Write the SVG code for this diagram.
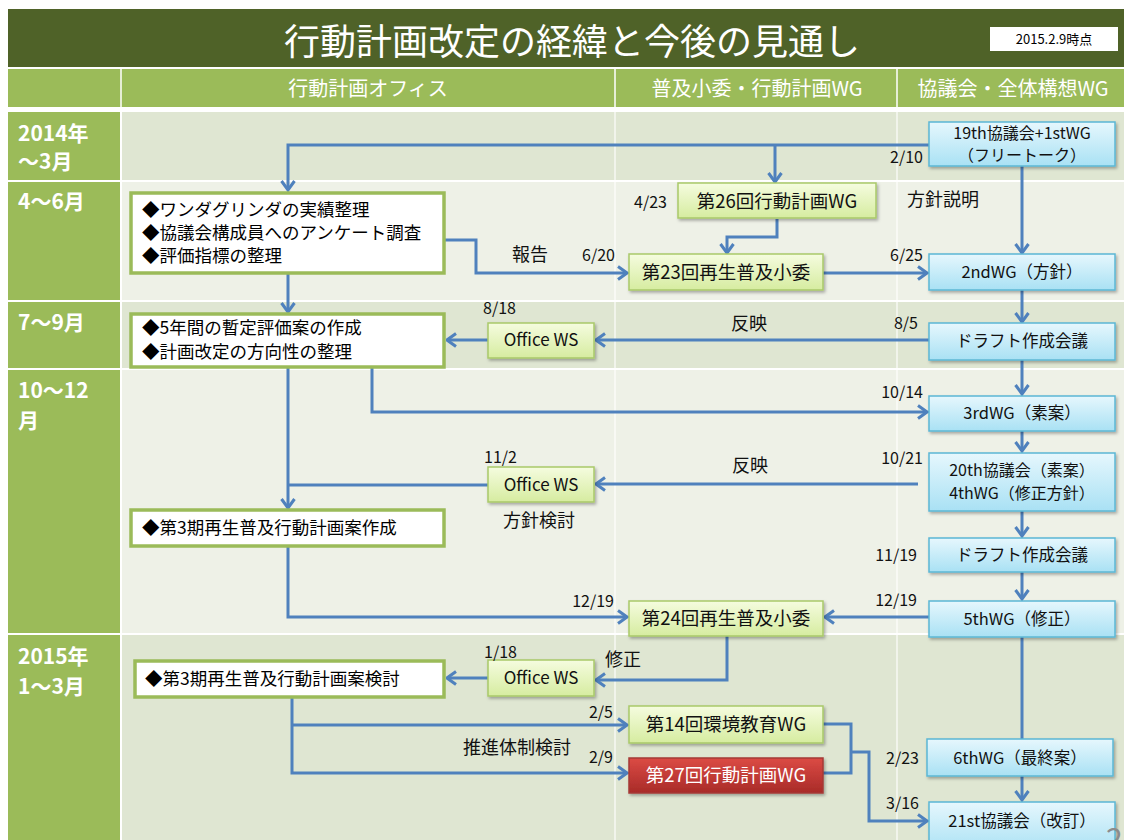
<svg xmlns="http://www.w3.org/2000/svg" width="1124" height="840" viewBox="0 0 1124 840">
<style>
text{font-family:"Noto Sans CJK JP","Noto Sans",sans-serif;}
.title{font-size:36px;fill:#fff;text-anchor:middle;}
.hdr{font-size:20px;fill:#fff;text-anchor:middle;}
.row{font-size:21px;fill:#fff;font-weight:bold;}
.off{fill:#fff;stroke:#9bbb59;stroke-width:3.5;}
.offt{font-size:17.5px;fill:#000;}
.pl{fill:url(#gPlan);stroke:#a9c96a;stroke-width:1.5;filter:url(#sh);}
.red{fill:url(#gRed);stroke:#a53a36;stroke-width:1.5;filter:url(#sh);}
.co{fill:url(#gCo);stroke:#5bb7d5;stroke-width:1.5;filter:url(#sh);}
.plt{font-size:18.5px;fill:#111;text-anchor:middle;}
.ws{font-size:17px;fill:#111;text-anchor:middle;}
.cot{font-size:16.5px;fill:#111;text-anchor:middle;}
.cot2{font-size:16px;fill:#111;text-anchor:middle;}
.dt{font-size:16px;fill:#111;}
.lb{font-size:18px;fill:#111;}
.r{text-anchor:end;}
.m{text-anchor:middle;}
.cn path{fill:none;stroke:#4f81bd;stroke-width:3;}
.ar{marker-end:url(#arr);}
</style>
<defs>
<linearGradient id="gPlan" x1="0" y1="0" x2="0" y2="1"><stop offset="0" stop-color="#f5fcdf"/><stop offset="1" stop-color="#d6eca0"/></linearGradient>
<linearGradient id="gCo" x1="0" y1="0" x2="0" y2="1"><stop offset="0" stop-color="#e6f7fd"/><stop offset="1" stop-color="#a9e1f4"/></linearGradient>
<linearGradient id="gRed" x1="0" y1="0" x2="0" y2="1"><stop offset="0" stop-color="#dc4b45"/><stop offset="1" stop-color="#a82b28"/></linearGradient>
<filter id="sh" x="-10%" y="-20%" width="130%" height="160%"><feDropShadow dx="1.5" dy="2" stdDeviation="1.5" flood-color="#000" flood-opacity="0.3"/></filter>
<marker id="arr" viewBox="0 0 12 16" refX="10.5" refY="8" markerWidth="12" markerHeight="16" markerUnits="userSpaceOnUse" orient="auto"><path d="M1.5,1.5 L10.5,8 L1.5,14.5" fill="none" stroke="#4f81bd" stroke-width="3"/></marker>
</defs>
<rect width="1124" height="840" fill="#fff"/>
<!-- title -->
<rect x="8" y="9" width="1116" height="58" fill="#4f6228"/>
<text class="title" x="572" y="55">行動計画改定の経緯と今後の見通し</text>
<rect x="990" y="27" width="128" height="24" fill="#fff"/>
<text x="1054" y="44" font-size="13" fill="#000" text-anchor="middle">2015.2.9時点</text>
<!-- header -->
<rect x="8" y="69" width="1116" height="38" fill="#9bbb59"/>
<g stroke="#e6eed6" stroke-width="2"><line x1="121" y1="69" x2="121" y2="107"/><line x1="615" y1="69" x2="615" y2="107"/><line x1="897" y1="69" x2="897" y2="107"/></g>
<text class="hdr" x="368" y="96">行動計画オフィス</text>
<text class="hdr" x="757" y="96">普及小委・行動計画WG</text>
<text class="hdr" x="1013" y="96">協議会・全体構想WG</text>
<!-- rows -->
<g>
<rect x="122" y="112" width="1002" height="68" fill="#dfe6d2"/>
<rect x="122" y="182" width="1002" height="118" fill="#eef1e7"/>
<rect x="122" y="302" width="1002" height="66" fill="#dfe6d2"/>
<rect x="122" y="370" width="1002" height="263" fill="#eef1e7"/>
<rect x="122" y="635" width="1002" height="205" fill="#dfe6d2"/>
<rect x="8" y="112" width="112" height="68" fill="#9bbb59"/>
<rect x="8" y="182" width="112" height="118" fill="#9bbb59"/>
<rect x="8" y="302" width="112" height="66" fill="#9bbb59"/>
<rect x="8" y="370" width="112" height="263" fill="#9bbb59"/>
<rect x="8" y="635" width="112" height="205" fill="#9bbb59"/>
<g stroke="#ffffff" stroke-opacity="0.75" stroke-width="1.5"><line x1="615" y1="112" x2="615" y2="840"/><line x1="897" y1="112" x2="897" y2="840"/></g>
<text class="row" x="18" y="141">2014年</text>
<text class="row" x="18" y="169">～3月</text>
<text class="row" x="18" y="209">4～6月</text>
<text class="row" x="18" y="330">7～9月</text>
<text class="row" x="18" y="398">10～12</text>
<text class="row" x="18" y="428">月</text>
<text class="row" x="18" y="664">2015年</text>
<text class="row" x="18" y="694">1～3月</text>
</g>
<!-- connectors -->
<g id="connectors" class="cn">
<path class="ar" d="M929,145 H288 V190"/>
<path class="ar" d="M775,145 V182"/>
<path class="ar" d="M1022,166 V253"/>
<path class="ar" d="M777,219 V237 H727 V253"/>
<path class="ar" d="M444,240 H476 V273 H627"/>
<path class="ar" d="M823,273 H927"/>
<path class="ar" d="M288,273 V312"/>
<path class="ar" d="M1022,290 V322"/>
<path class="ar" d="M929,340 H596"/>
<path class="ar" d="M488,340 H447"/>
<path class="ar" d="M1022,360 V394"/>
<path class="ar" d="M372,367 V412 H927"/>
<path class="ar" d="M1022,431 V451"/>
<path class="ar" d="M918,484 H596"/>
<path d="M488,485 H288"/>
<path class="ar" d="M288,367 V508"/>
<path class="ar" d="M1022,511 V536"/>
<path class="ar" d="M1022,572 V599"/>
<path class="ar" d="M288,546 V617 H627"/>
<path class="ar" d="M929,617 H825"/>
<path class="ar" d="M727,636 V680 H596"/>
<path class="ar" d="M488,678 H447"/>
<path class="ar" d="M292,697 V773 H627"/>
<path class="ar" d="M292,725 H627"/>
<path d="M1022,637 V739"/>
<path class="ar" d="M1022,776 V800"/>
<path d="M823,724 H851 V773 H823"/>
<path class="ar" d="M851,752 H869 V821 H927"/>
</g>
<!-- office nodes -->
<g id="nA"><rect class="off" x="131" y="193" width="313" height="80"/>
<text class="offt" x="142" y="216">◆ワンダグリンダの実績整理</text>
<text class="offt" x="142" y="239">◆協議会構成員へのアンケート調査</text>
<text class="offt" x="142" y="262">◆評価指標の整理</text></g>
<g id="nB"><rect class="off" x="131" y="314" width="313" height="53"/>
<text class="offt" x="142" y="334">◆5年間の暫定評価案の作成</text>
<text class="offt" x="142" y="358">◆計画改定の方向性の整理</text></g>
<g id="nC"><rect class="off" x="131" y="510" width="313" height="36"/>
<text class="offt" x="142" y="534">◆第3期再生普及行動計画案作成</text></g>
<g id="nD"><rect class="off" x="135" y="661" width="309" height="36"/>
<text class="offt" x="145" y="685">◆第3期再生普及行動計画案検討</text></g>
<!-- plan nodes -->
<g id="p26"><rect class="pl" x="678" y="183" width="198" height="35"/><text class="plt" x="777" y="208">第26回行動計画WG</text></g>
<g id="p23"><rect class="pl" x="629" y="254" width="194" height="36"/><text class="plt" x="726" y="279">第23回再生普及小委</text></g>
<g id="ws1"><rect class="pl" x="488" y="323" width="106" height="35"/><text class="ws" x="541" y="346">Office WS</text></g>
<g id="ws2"><rect class="pl" x="488" y="467" width="106" height="35"/><text class="ws" x="541" y="491">Office WS</text></g>
<g id="p24"><rect class="pl" x="629" y="601" width="194" height="35"/><text class="plt" x="726" y="625">第24回再生普及小委</text></g>
<g id="ws3"><rect class="pl" x="488" y="660" width="106" height="36"/><text class="ws" x="541" y="684">Office WS</text></g>
<g id="p14"><rect class="pl" x="629" y="706" width="194" height="37"/><text class="plt" x="726" y="731">第14回環境教育WG</text></g>
<g id="p27"><rect class="red" x="629" y="758" width="194" height="35"/><text class="plt" x="726" y="782" style="fill:#fff">第27回行動計画WG</text></g>
<!-- council nodes -->
<g id="c19"><rect class="co" x="929" y="122" width="186" height="44"/><text class="cot2" x="1022" y="139">19th協議会+1stWG</text><text class="cot2" x="1022" y="161">（フリートーク）</text></g>
<g id="c2"><rect class="co" x="929" y="254" width="186" height="36"/><text class="cot" x="1022" y="278">2ndWG（方針）</text></g>
<g id="cd1"><rect class="co" x="929" y="323" width="186" height="37"/><text class="cot" x="1022" y="347">ドラフト作成会議</text></g>
<g id="c3"><rect class="co" x="929" y="396" width="186" height="35"/><text class="cot" x="1022" y="419">3rdWG（素案）</text></g>
<g id="c20"><rect class="co" x="929" y="453" width="186" height="58"/><text class="cot2" x="1022" y="476">20th協議会（素案）</text><text class="cot2" x="1022" y="499">4thWG（修正方針）</text></g>
<g id="cd2"><rect class="co" x="929" y="538" width="186" height="34"/><text class="cot" x="1022" y="561">ドラフト作成会議</text></g>
<g id="c5"><rect class="co" x="929" y="601" width="186" height="36"/><text class="cot" x="1022" y="625">5thWG（修正）</text></g>
<g id="c6"><rect class="co" x="927" y="739" width="186" height="37"/><text class="cot" x="1020" y="764">6thWG（最終案）</text></g>
<g id="c21"><rect class="co" x="929" y="802" width="186" height="50"/><text class="cot" x="1022" y="827">21st協議会（改訂）</text></g>
<!-- labels -->
<g>
<text class="dt r" x="923" y="163">2/10</text>
<text class="dt r" x="667" y="208">4/23</text>
<text class="lb" x="907" y="206">方針説明</text>
<text class="lb" x="512" y="261">報告</text>
<text class="dt r" x="615" y="261">6/20</text>
<text class="dt r" x="923" y="261">6/25</text>
<text class="dt" x="483" y="314">8/18</text>
<text class="lb m" x="749" y="330">反映</text>
<text class="dt r" x="918" y="329">8/5</text>
<text class="dt r" x="923" y="398">10/14</text>
<text class="lb m" x="750" y="472">反映</text>
<text class="dt r" x="923" y="464">10/21</text>
<text class="dt" x="484" y="463">11/2</text>
<text class="lb" x="503" y="527">方針検討</text>
<text class="dt r" x="917" y="561">11/19</text>
<text class="dt r" x="614" y="607">12/19</text>
<text class="dt r" x="917" y="606">12/19</text>
<text class="dt" x="484" y="658">1/18</text>
<text class="lb" x="605" y="666">修正</text>
<text class="dt r" x="613" y="718">2/5</text>
<text class="lb" x="463" y="754">推進体制検討</text>
<text class="dt r" x="613" y="763">2/9</text>
<text class="dt r" x="919" y="764">2/23</text>
<text class="dt r" x="919" y="809">3/16</text>
<text x="1106" y="850" font-size="30" fill="#8c8c8c">2</text>
</g>
</svg>
